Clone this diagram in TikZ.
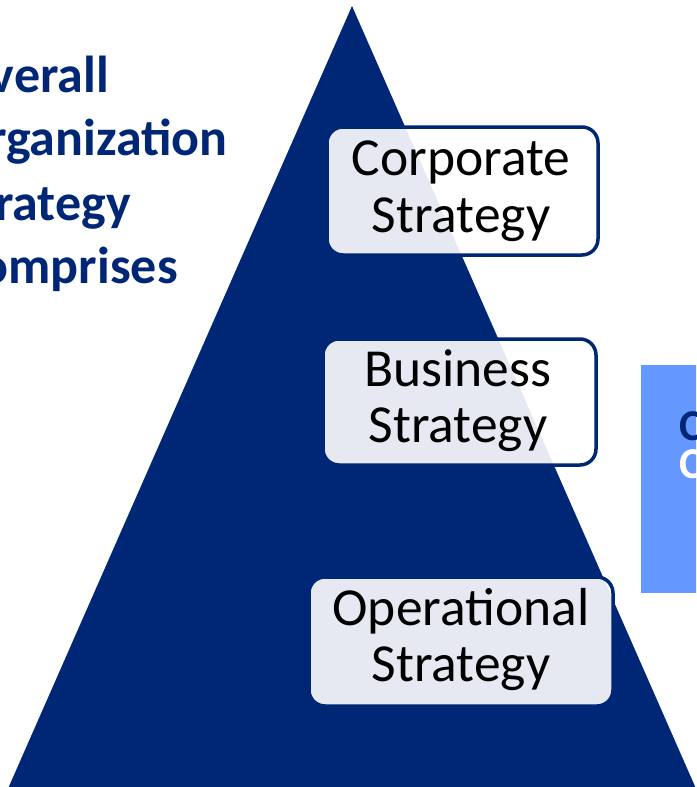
\documentclass[tikz,border=0pt]{standalone}
\usepackage{fontspec}
\setmainfont{Carlito}
\definecolor{navy}{HTML}{002776}
\definecolor{skyblue}{HTML}{6497FF}
\begin{document}
\begin{tikzpicture}[x=1pt,y=-1pt,
  tier/.style={draw=navy, line width=3.5pt, rounded corners=16pt, fill=white, fill opacity=0.9, inner sep=0pt},
  tiertext/.style={anchor=base, text=black, font=\fontsize{53.5}{60}\selectfont, inner sep=0pt},
  lefttext/.style={anchor=base east, text=navy, font=\bfseries\fontsize{52}{64}\selectfont, inner sep=0pt},
  sidetext/.style={anchor=base west, font=\bfseries\fontsize{44}{38}\selectfont, inner sep=0pt}]
\useasboundingbox (0,0) rectangle (696,787);
\clip (0,0) rectangle (696,787);

% heading on the left
\node[lefttext] (h1) at (109,92) {Overall};
\node[lefttext] (h2) at (228,155) {Organization};
\node[lefttext] (h3) at (131,220) {Strategy};
\node[lefttext] (h4) at (178,283) {comprises};

% side panel on the right
\node[fill=skyblue, anchor=north west, minimum width=80pt, minimum height=228pt, inner sep=0pt] (panel) at (641,365) {};
\node[sidetext, text=navy] (p1) at (679,440) {C};
\node[sidetext, text=white] (p2) at (679,478) {C};

% strategy pyramid
\fill[navy] (352,6) -- (701,800) -- (3,800) -- cycle;

% tiers
\node[tier, minimum width=271pt, minimum height=128pt] (corp) at (462.5,191) {};
\node[tiertext] (corp1) at (461,175) {Corporate};
\node[tiertext] (corp2) at (461,232) {Strategy};

\node[tier, minimum width=273pt, minimum height=126pt] (bus) at (459.5,402) {};
\node[tiertext] (bus1) at (458,386) {Business};
\node[tiertext] (bus2) at (458,442) {Strategy};

\node[tier, minimum width=304pt, minimum height=129pt] (ops) at (461,641.5) {};
\node[tiertext] (ops1) at (461,625) {Operational};
\node[tiertext] (ops2) at (461,681) {Strategy};
\end{tikzpicture}
\end{document}
